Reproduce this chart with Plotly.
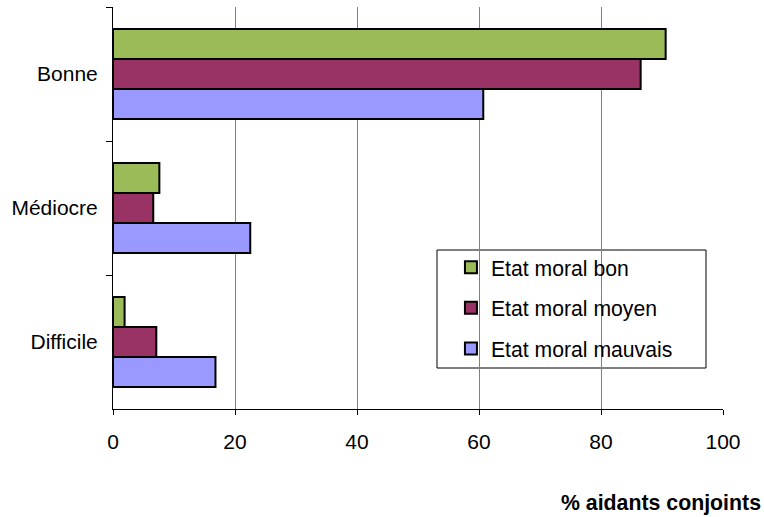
import plotly.graph_objects as go

# Categories (top to bottom) and series values in %
categories = ["Bonne", "Médiocre", "Difficile"]
series_names = ["Etat moral bon", "Etat moral moyen", "Etat moral mauvais"]
etat_bon = [90.6, 7.6, 1.9]
etat_moyen = [86.5, 6.6, 7.1]
etat_mauvais = [60.7, 22.5, 16.8]
x_ticks = [0, 20, 40, 60, 80, 100]
x_title = "% aidants conjoints"

colors = ["#9BBB59", "#993366", "#9999FF"]
font_family = "Liberation Sans, Arial, sans-serif"

fig = go.Figure()
for name, vals, col in zip(series_names, [etat_bon, etat_moyen, etat_mauvais], colors):
    fig.add_trace(go.Bar(
        y=categories, x=vals, name=name, orientation="h",
        marker=dict(color=col, line=dict(color="black", width=2)),
        legendgroup=name,
    ))

fig.update_layout(
    width=764, height=517,
    margin=dict(l=113, r=41, t=7, b=108),
    plot_bgcolor="white", paper_bgcolor="white",
    font=dict(family=font_family, size=21, color="black"),
    barmode="group", bargap=0.33, bargroupgap=0,
    showlegend=True,
    legend=dict(
        x=0.554, y=0.403, xanchor="left", yanchor="top",
        bgcolor="rgba(0,0,0,0)", borderwidth=0,
        font=dict(size=21.2), tracegroupgap=10, traceorder="grouped",
    ),
    xaxis=dict(
        range=[0, 100], tickvals=x_ticks, showgrid=True,
        gridcolor="#808080", gridwidth=1, zeroline=False,
        showline=True, linecolor="black", linewidth=1,
        ticks="outside", ticklen=5, tickcolor="black",
        ticklabelstandoff=9, tickfont=dict(size=21),
    ),
    yaxis=dict(
        autorange="reversed", showline=True, linecolor="black", linewidth=1,
        ticks="outside", tickson="boundaries", ticklen=6, tickcolor="black",
        ticklabelstandoff=10, showgrid=False, tickfont=dict(size=21),
    ),
    shapes=[dict(
        type="rect", xref="paper", yref="paper",
        x0=(437 - 113) / 610, x1=(706 - 113) / 610,
        y0=(409 - 368) / 402, y1=(409 - 250) / 402,
        line=dict(color="black", width=1), fillcolor="white", layer="below",
    )],
    annotations=[dict(
        text="<b>" + x_title + "</b>", xref="paper", yref="paper",
        x=(763 - 113) / 610, y=(409 - 503) / 402, xanchor="right", yanchor="middle",
        showarrow=False, font=dict(size=21.3),
    )],
)

fig.write_html("out.html")
